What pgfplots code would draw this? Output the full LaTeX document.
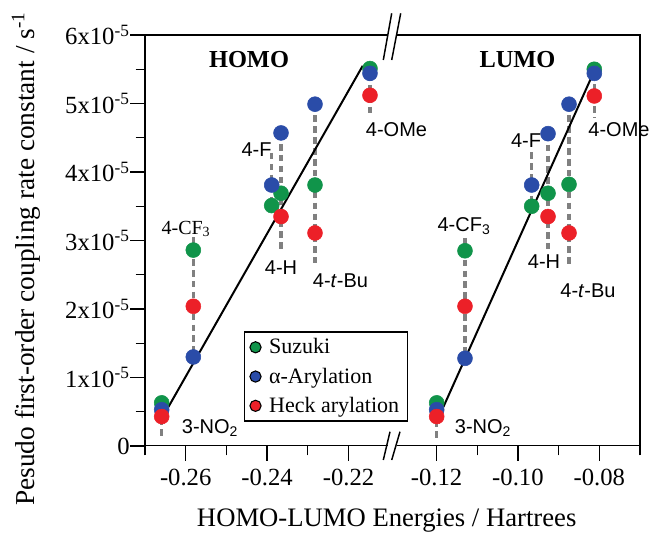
\documentclass[border=0pt]{standalone}
\usepackage{fontspec}
\setmainfont{Liberation Serif}
\newfontfamily\sansf{Liberation Sans}
\usepackage{pgfplots}
\pgfplotsset{compat=1.18}
\definecolor{cgreen}{RGB}{16,148,74}
\definecolor{cblue}{RGB}{42,76,168}
\definecolor{cred}{RGB}{236,32,40}
\definecolor{cgray}{RGB}{128,128,128}
\pgfplotsset{
 brk/.style={
  scale only axis, height=308.25pt, ymin=0, ymax=6, clip=false,
  axis line style={draw=none},
  tick pos=left, tick align=outside,
  major tick length=11pt, minor tick length=7pt,
  every tick/.style={black, line width=1pt},
  xticklabel style={font=\fontsize{18.5}{20}\selectfont, yshift=-3pt},
  yticklabel style={font=\fontsize{18.5}{20}\selectfont, xshift=3pt},
 },
 dots/.style={only marks, mark=*, mark size=5.6pt, forget plot},
 dsh/.style={cgray, line width=2.3pt, dash pattern=on 5pt off 3.2pt, forget plot},
 fit/.style={black, line width=1.5pt, forget plot},
}
\begin{document}
\begin{tikzpicture}
\useasboundingbox (0,0) rectangle (489pt,405pt);
% ---------------- HOMO ----------------
\begin{axis}[brk, at={(108.75pt,70.5pt)}, anchor=south west, width=185pt,
 xmin=-0.27, xmax=-0.20939,
 xtick={-0.26,-0.24,-0.22}, xticklabels={-0.26,-0.24,-0.22},
 minor xtick={-0.27,-0.25,-0.23},
 ytick={0,1,2,3,4,5,6},
 yticklabels={0,1x10\textsuperscript{-5},2x10\textsuperscript{-5},3x10\textsuperscript{-5},4x10\textsuperscript{-5},5x10\textsuperscript{-5},6x10\textsuperscript{-5}},
 minor ytick={0.5,1.5,2.5,3.5,4.5,5.5},
 legend cell align=left,
 legend style={at={(0.401,0.279)}, anchor=north west, draw=black, line width=1pt,
   font=\fontsize{16.5}{18}\selectfont, row sep=5pt, inner ysep=3pt, inner xsep=4pt,
   nodes={inner sep=2pt},
   /tikz/every odd column/.append style={column sep=4pt}},
]
\addlegendimage{only marks, mark=*, mark size=4.2pt, mark options={fill=cgreen, draw=black, line width=0.8pt}}
\addlegendentry{Suzuki}
\addlegendimage{only marks, mark=*, mark size=4.2pt, mark options={fill=cblue, draw=black, line width=0.8pt}}
\addlegendentry{α-Arylation}
\addlegendimage{only marks, mark=*, mark size=4.2pt, mark options={fill=cred, draw=black, line width=0.8pt}}
\addlegendentry{Heck arylation}
\addplot[dots, cgreen] coordinates {(-0.2659,0.63) (-0.25813,2.86) (-0.23887,3.51) (-0.23658,3.69) (-0.22823,3.81) (-0.21472,5.51)};
\addplot[dots, cblue] coordinates {(-0.2659,0.53) (-0.25813,1.30) (-0.23887,3.81) (-0.23658,4.57) (-0.22823,4.99) (-0.21472,5.44)};
\addplot[dots, cred] coordinates {(-0.2659,0.43) (-0.25813,2.04) (-0.23658,3.35) (-0.22823,3.11) (-0.21472,5.12)};
\addplot[dsh] coordinates {(-0.2659,0.15) (-0.2659,0.63)};
\addplot[dsh] coordinates {(-0.25813,3.05) (-0.25813,1.30)};
\addplot[dsh] coordinates {(-0.23887,4.28) (-0.23887,3.51)};
\addplot[dsh] coordinates {(-0.23658,4.57) (-0.23658,2.83)};
\addplot[dsh] coordinates {(-0.22823,4.99) (-0.22823,2.67)};
\addplot[dsh] coordinates {(-0.21472,5.59) (-0.21472,4.83)};
\addplot[fit] coordinates {(-0.26428,0.567) (-0.21651,5.55)};
\end{axis}
% ---------------- LUMO ----------------
\begin{axis}[brk, at={(293.75pt,70.5pt)}, anchor=south west, width=186.25pt,
 xmin=-0.13101, xmax=-0.07,
 xtick={-0.12,-0.10,-0.08}, xticklabels={-0.12,-0.10,-0.08},
 minor xtick={-0.11,-0.09,-0.07},
 ytick=\empty,
]
\addplot[dots, cgreen] coordinates {(-0.11995,0.63) (-0.11300,2.85) (-0.09661,3.50) (-0.09260,3.69) (-0.08744,3.82) (-0.08123,5.50)};
\addplot[dots, cblue] coordinates {(-0.11995,0.53) (-0.11300,1.28) (-0.09661,3.81) (-0.09260,4.56) (-0.08744,4.99) (-0.08123,5.44)};
\addplot[dots, cred] coordinates {(-0.11995,0.43) (-0.11300,2.04) (-0.09260,3.35) (-0.08744,3.11) (-0.08123,5.11)};
\addplot[dsh] coordinates {(-0.11995,0.12) (-0.11995,0.63)};
\addplot[dsh] coordinates {(-0.11300,3.04) (-0.11300,1.28)};
\addplot[dsh] coordinates {(-0.09661,4.29) (-0.09661,3.50)};
\addplot[dsh] coordinates {(-0.09260,4.56) (-0.09260,2.88)};
\addplot[dsh] coordinates {(-0.08744,4.99) (-0.08744,2.60)};
\addplot[dsh] coordinates {(-0.08123,5.60) (-0.08123,4.79)};
\addplot[fit] coordinates {(-0.11833,0.567) (-0.08211,5.36)};
\end{axis}
% ---------------- frame, breaks, labels (pixel grid) ----------------
\begin{scope}[x=0.75pt,y=-0.75pt,shift={(0pt,405pt)}]
\draw[line width=1.1pt] (388,35) -- (145,35) -- (145,445.5) -- (388,445.5);
\draw[line width=1.1pt] (397,35) -- (640,35) -- (640,445.5) -- (397,445.5);
\draw[line width=1.1pt] (383.3,60) -- (391.7,13.3);
\draw[line width=1.1pt] (391.7,60) -- (400.7,13.3);
\draw[line width=1.1pt] (383.3,460) -- (390,431.7);
\draw[line width=1.1pt] (391.7,460) -- (400,431.7);
\node[font=\bfseries\fontsize{18.3}{20}\selectfont] at (249,60) {HOMO};
\node[font=\bfseries\fontsize{18.3}{20}\selectfont] at (517.5,60) {LUMO};
\node[font=\fontsize{15}{17}\selectfont] at (186,229) {4-CF\textsubscript{3}};
\begin{scope}[every node/.style={font=\sansf\fontsize{15}{17}\selectfont}]
\node at (256.5,150) {4-F};
\node at (281,268) {4-H};
\node at (340.5,281) {4-\textit{t}-Bu};
\node at (396.5,130) {4-OMe};
\node at (210,428) {3-NO\textsubscript{2}};
\node at (464,226) {4-CF\textsubscript{3}};
\node at (526,141) {4-F};
\node at (544,262) {4-H};
\node at (588,291) {4-\textit{t}-Bu};
\node at (619,130) {4-OMe};
\node at (483,428) {3-NO\textsubscript{2}};
\end{scope}
\node[rotate=90, font=\fontsize{20.5}{22}\selectfont] at (26,259) {Pesudo first-order coupling rate constant / s\textsuperscript{-1}};
\node[font=\fontsize{20}{22}\selectfont] at (386.7,521) {HOMO-LUMO Energies / Hartrees};
\end{scope}
\end{tikzpicture}
\end{document}
